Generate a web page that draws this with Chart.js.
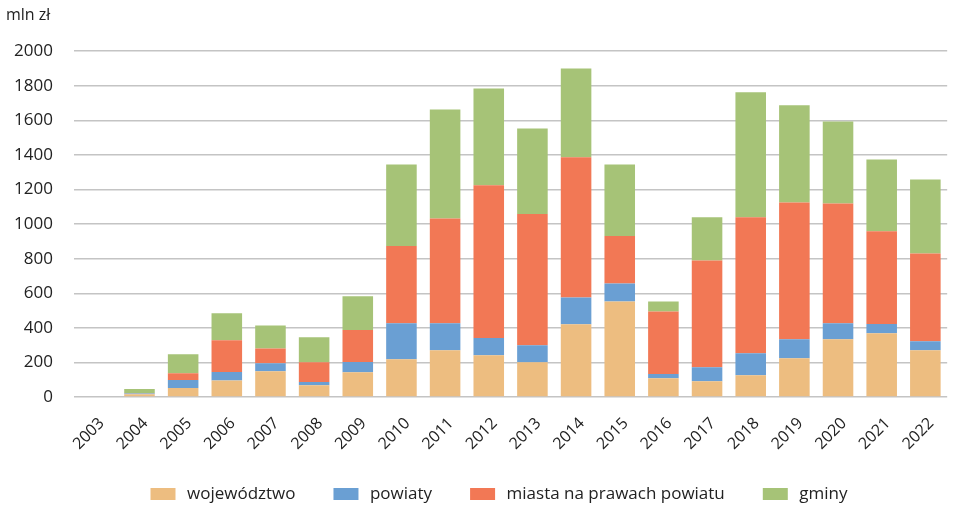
<!DOCTYPE html>
<html>
<head>
<meta charset="utf-8">
<script src="https://cdn.jsdelivr.net/npm/chart.js@4"></script>
<style>
  body { margin: 0; background: #fff; }
  #wrap { width: 956px; height: 506px; }
</style>
</head>
<body>
<div id="wrap"><canvas id="myChart"></canvas></div>
<script>
const years = ["2003","2004","2005","2006","2007","2008","2009","2010","2011","2012",
               "2013","2014","2015","2016","2017","2018","2019","2020","2021","2022"];

// mln zł
const wojewodztwo = [0, 16, 52, 96, 149, 68, 143, 218, 270, 241, 201, 421, 553, 108, 91, 126, 224, 334, 368, 270];
const powiaty     = [0, 4, 46, 49, 46, 19, 59, 208, 156, 100, 98, 155, 104, 25, 81, 127, 110, 92, 54, 52];
const miasta      = [0, 2, 39, 183, 86, 114, 185, 447, 607, 883, 759, 811, 274, 362, 618, 786, 791, 693, 536, 508];
const gminy       = [4, 24, 110, 156, 133, 144, 195, 472, 630, 560, 495, 513, 414, 58, 249, 723, 562, 475, 416, 428];

const yTicks = [0, 200, 400, 600, 800, 1000, 1200, 1400, 1600, 1800, 2000];

const font = "'Open Sans', 'Noto Sans', sans-serif";

// move the legend a bit right and up, like in the original
const legendShift = {
    id: 'legendShift',
    afterLayout(chart) {
        const lg = chart.legend;
        lg.left += 18;
        lg.right += 18;
        lg.top -= 5;
    }
};

let ctx = document.querySelector('#myChart').getContext('2d');
let myChart = new Chart(ctx, {
    type: 'bar',
    data: {
        labels: years,
        datasets: [
            { label: 'województwo', data: wojewodztwo, backgroundColor: '#EDBD80' },
            { label: 'powiaty', data: powiaty, backgroundColor: '#6A9FD3' },
            { label: 'miasta na prawach powiatu', data: miasta, backgroundColor: '#F27855' },
            { label: 'gminy', data: gminy, backgroundColor: '#A6C377' }
        ]
    },
    plugins: [legendShift],
    options: {
        responsive: true,
        maintainAspectRatio: false,
        animation: false,
        datasets: { bar: { barPercentage: 0.7, categoryPercentage: 1 } },
        layout: { padding: { left: 6, right: 3, top: 0, bottom: 0 } },
        plugins: {
            tooltip: { enabled: false },
            title: {
                display: true,
                text: 'mln zł',
                align: 'start',
                color: '#222',
                font: { family: font, size: 16, weight: 'normal' },
                padding: { top: 6, bottom: 26 }
            },
            legend: {
                position: 'bottom',
                maxHeight: 51,
                labels: {
                    boxWidth: 31,
                    boxHeight: 18,
                    padding: 35,
                    color: '#222',
                    font: { family: font, size: 17 },
                    // white outline trims the swatch a little, leaving a wider gap before the text
                    generateLabels: (chart) => {
                        const items = Chart.defaults.plugins.legend.labels.generateLabels(chart);
                        items.forEach(it => { it.lineWidth = 6; it.strokeStyle = '#fff'; });
                        return items;
                    }
                }
            }
        },
        scales: {
            x: {
                stacked: true,
                grid: { display: false, drawTicks: false },
                border: { display: false },
                afterFit: (axis) => { axis.height = 58; },
                ticks: {
                    color: '#222',
                    font: { family: font, size: 16 },
                    minRotation: 45,
                    maxRotation: 45,
                    padding: 17,
                    labelOffset: 6
                }
            },
            y: {
                stacked: true,
                min: 0,
                max: 2000,
                afterBuildTicks: (axis) => { axis.ticks = yTicks.map(v => ({ value: v })); },
                afterFit: (axis) => { axis.width = 68; },
                grid: { color: '#C4C4C4', lineWidth: 1.5, drawTicks: false },
                border: { display: false },
                ticks: {
                    color: '#222',
                    font: { family: font, size: 17 },
                    padding: 21,
                    callback: (v) => String(v)
                }
            }
        }
    }
});
</script>
</body>
</html>
